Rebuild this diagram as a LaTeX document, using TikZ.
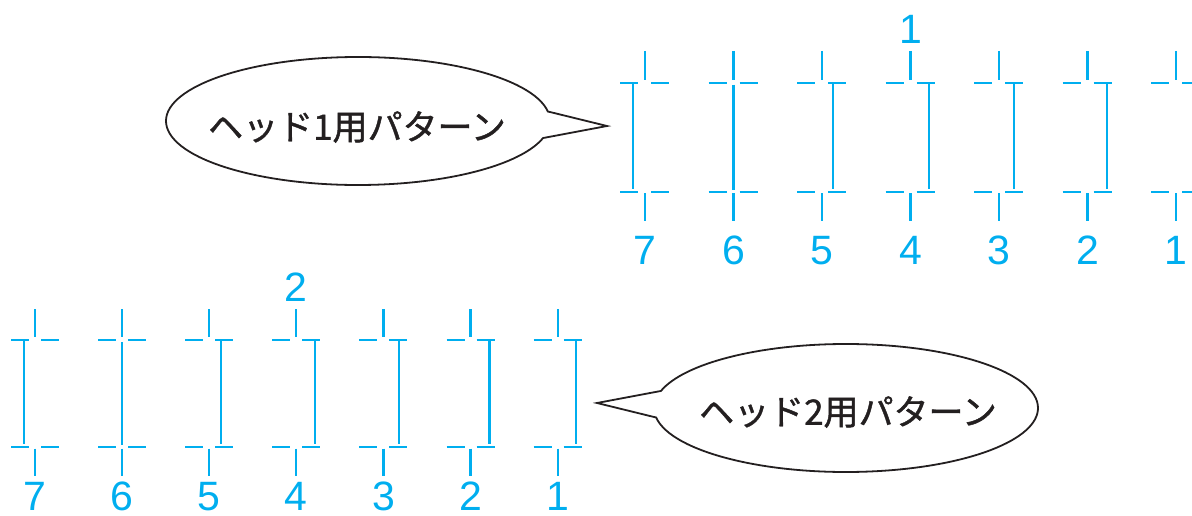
\documentclass[tikz,border=0pt]{standalone}
\usepackage{fontspec}
\setmainfont{Liberation Sans}
\newfontfamily\jpfont[FakeBold=1.2]{Noto Sans CJK JP}
\usetikzlibrary{shapes.callouts}
\definecolor{pcyan}{HTML}{00AEEF}
\definecolor{ink}{HTML}{231F20}
\begin{document}
\begin{tikzpicture}[x=1pt,y=-1pt,
  regline/.style={pcyan, line width=2.2pt},
  num/.style={text=pcyan, font=\fontsize{41}{41}\selectfont, anchor=base, inner sep=0pt, text depth=0pt},
  bubble/.style={ellipse callout, draw=ink, line width=1.8pt, fill=white,
    minimum width=384pt, minimum height=128pt, inner sep=0pt, callout pointer arc=24},
  bubtext/.style={font=\jpfont\fontsize{35}{35}\selectfont, text=ink, inner sep=0pt}]
\useasboundingbox (0,0) rectangle (1192,516);
\clip (0,0) rectangle (1192,516);

% ---- top row (head 1) ----
\foreach \i/\off/\ga/\gb in {0/-12/0/3, 1/0/2/2, 2/11/0/3, 3/18.6/0/3, 4/15.3/0/3, 5/19.4/0/3, 6/18.3/0/3}{
  \pgfmathsetmacro\t{645+88.5*\i}
  \pgfmathtruncatemacro\lab{7-\i}
  \draw[regline] (\t,51) -- (\t,80);
  \draw[regline] (\t-25,82.7) -- (\t-7,82.7) (\t+6,82.7) -- (\t+24,82.7);
  \draw[regline] (\t-25,192.3) -- (\t-7,192.3) (\t+6,192.3) -- (\t+24,192.3);
  \draw[regline] (\t,193.5) -- (\t,221);
  \draw[regline] (\t+\off,82.7+\ga) -- (\t+\off,192.3-\gb);
  \node[num] (a\lab) at (\t,264) {\lab};
}
\node[num] (atop) at (910.7,44) {1};

% ---- bottom row (head 2) ----
\foreach \i/\off/\ga/\gb in {0/-11/0/3, 1/0/2/2, 2/11.4/0/3, 3/18.4/0/3, 4/15.7/0/3, 5/19/0/3, 6/18.3/0/3}{
  \pgfmathsetmacro\t{35+87.1*\i}
  \pgfmathtruncatemacro\lab{7-\i}
  \draw[regline] (\t,309) -- (\t,337);
  \draw[regline] (\t-24,340) -- (\t-6,340) (\t+6,340) -- (\t+24,340);
  \draw[regline] (\t-24,447.3) -- (\t-6,447.3) (\t+6,447.3) -- (\t+24,447.3);
  \draw[regline] (\t,448.5) -- (\t,476);
  \draw[regline] (\t+\off,340+\ga) -- (\t+\off,447.3-\gb);
  \node[num] (b\lab) at (\t,510) {\lab};
}
\node[num] (btop) at (296.3,301) {2};

% ---- callouts ----
\coordinate (tip1) at (607,126);
\coordinate (tip2) at (597,403);
\node[bubble, callout absolute pointer={(tip1)}] (c1) at (358,121) {};
\node[bubble, callout absolute pointer={(tip2)}] (c2) at (846,408) {};
\node[bubtext] (t1) at (357,127) {ヘッド1用パターン};
\node[bubtext] (t2) at (848,412) {ヘッド2用パターン};
\end{tikzpicture}
\end{document}
